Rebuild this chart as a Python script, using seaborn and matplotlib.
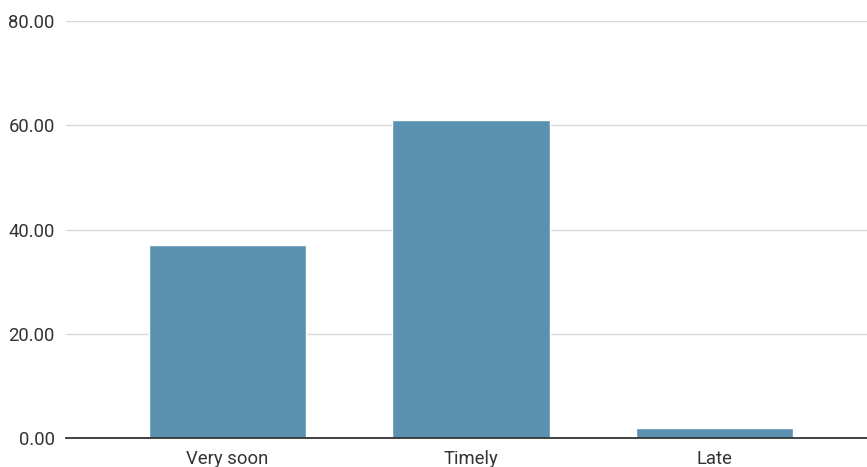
import pandas as pd
import numpy as np
import matplotlib.pyplot as plt
import seaborn as sns

categories = ['Very soon', 'Timely', 'Late']
values = [37.0, 61.0, 1.9]
yticks = [0, 20, 40, 60, 80]

df = pd.DataFrame({'category': categories, 'value': values})

sns.set_theme(style='white')
plt.rcParams['font.family'] = ['Roboto', 'DejaVu Sans']

fig = plt.figure(figsize=(8.67, 4.67), dpi=100)
ax = fig.add_axes([0.0761, 0.0621, 0.9239, 0.8929])

sns.barplot(data=df, x='category', y='value', color='#5a91b0', width=0.645,
            saturation=1, ax=ax, zorder=3)

ax.set_ylim(0, 80)
ax.set_xlim(-0.663, 2.626)
ax.set_yticks(yticks)
ax.set_yticklabels([f'{t:.2f}' for t in yticks])
ax.grid(axis='y', color='#d9d9d9', linewidth=1, zorder=0)
ax.set_axisbelow(True)

for side in ['top', 'right', 'left']:
    ax.spines[side].set_visible(False)
ax.spines['bottom'].set_color('#333333')
ax.spines['bottom'].set_linewidth(1.3)
ax.spines['bottom'].set_zorder(4)

ax.tick_params(axis='y', length=0, pad=8, labelsize=13.3, labelcolor='#333333')
ax.tick_params(axis='x', length=0, pad=9, labelsize=13.3, labelcolor='#333333')
ax.set_xlabel('')
ax.set_ylabel('')

plt.savefig('out.png', dpi=100)
plt.close()
